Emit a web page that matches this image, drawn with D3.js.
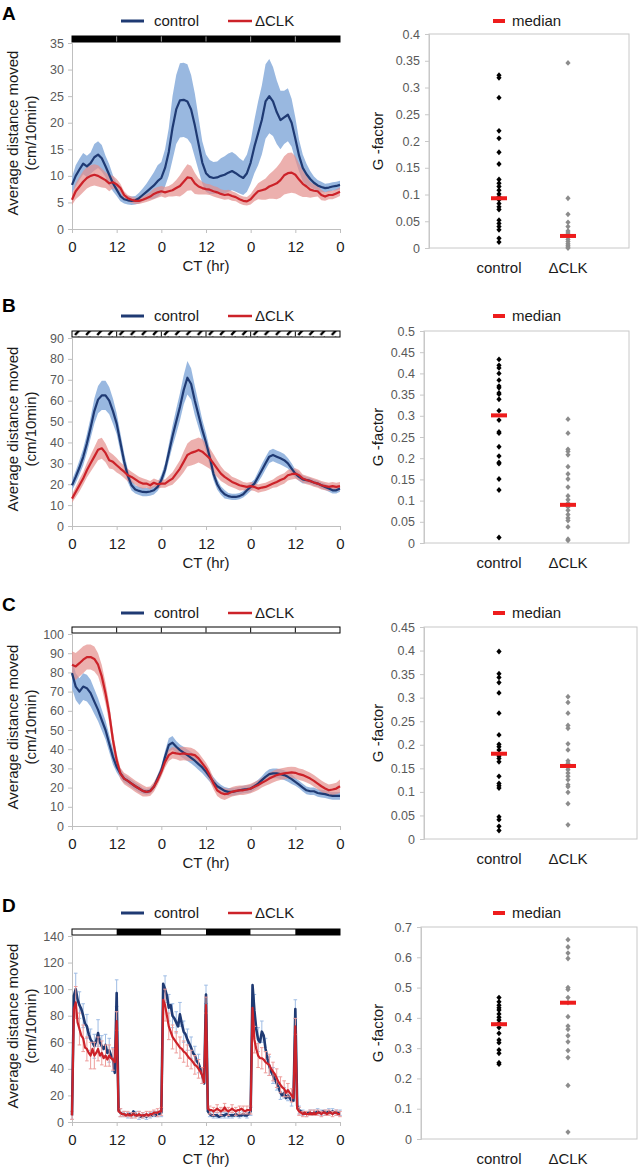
<!DOCTYPE html>
<html><head><meta charset="utf-8">
<script src="https://cdn.jsdelivr.net/npm/d3@7"></script>
<style>
body{margin:0;background:#fff}
svg{display:block}
text{font-family:"Liberation Sans",Arial,sans-serif}
</style>
</head><body>
<svg id="chart" width="642" height="1174"></svg>
<script>
// ---------------- DATA ----------------
const hourTicks = [0, 12, 24, 36, 48, 60, 72];
const hourTickLabels = ["0", "12", "0", "12", "0", "12", "0"];
const seriesNames = ["control", "ΔCLK"];
const groupNames = ["control", "ΔCLK"];

// Panel A (hourly means, SEM)
const aCtrl = [8.3,10.0,11.2,12.3,11.8,12.4,13.5,14.0,13.3,11.8,
  10.2,8.6,7.4,6.2,5.6,5.4,5.3,5.4,5.8,6.4,
  7.0,7.6,8.2,9.0,9.6,11.5,14.5,19.0,22.5,24.2,
  24.3,24.0,22.5,19.5,16.0,12.5,10.5,9.8,9.6,9.7,
  10.0,10.2,10.6,10.9,10.5,10.0,9.6,10.5,12.5,15.5,
  18.0,20.5,24.0,25.0,24.0,22.0,20.5,21.0,21.5,20.0,
  17.0,13.8,11.5,10.3,9.4,8.7,8.2,7.9,7.7,7.8,
  8.0,8.1,8.3];
const aCtrlErr = [1.5,2,2,2,2,2,2.5,2.5,2.5,2,
  2,1.5,1.2,1,0.8,0.8,0.8,0.8,1,1.2,
  1.5,2,2.5,3,3,3.5,4.5,6,6.5,7,
  7,7,6.5,6,5,4,3.5,3.2,3,3,
  3.3,3.5,3.6,3.6,3.5,3.3,3.2,3.5,4,5,
  6,6.5,7,7,6.5,6,5.5,5,5,4.5,
  4,3,2.5,2,1.5,1.2,1,1,0.8,0.8,
  0.8,0.8,0.8];
const aClk = [5.5,7.1,8.0,8.9,9.6,10.0,10.2,10.0,9.6,9.2,
  8.6,8.8,8.4,7.7,6.4,5.8,5.5,5.3,5.3,5.5,
  5.8,6.1,6.6,6.9,7.1,6.9,7.1,7.3,7.7,8.1,
  8.9,9.7,9.6,8.6,8.0,7.7,7.5,7.4,7.1,6.9,
  6.6,6.4,6.5,6.2,6.0,5.6,5.3,5.2,5.6,6.4,
  7.1,7.3,7.5,8.0,8.3,8.6,9.2,10.1,10.5,10.6,
  10.2,9.3,8.5,8.0,7.4,7.2,7.1,6.4,6.1,6.4,
  6.4,6.7,7.0];
const aClkErr = [1,1.5,1.8,2,2,2,2,2,1.8,1.5,
  1.5,1.2,1,0.8,0.7,0.6,0.6,0.6,0.6,0.6,
  0.7,0.8,1,1,1,1,1,1.2,1.5,2,
  2.3,2.5,2.3,2,1.5,1.2,1,1,1,1,
  0.9,0.9,0.9,0.9,0.8,0.8,0.8,0.8,1,1.2,
  1.5,1.8,2,2.3,2.6,3,3.3,3.6,3.8,3.8,
  3.5,3,2.5,2,1.5,1.2,1,1,0.8,0.8,
  0.8,0.8,0.8];

// Panel B
const bCtrl = [19.5,23.5,28,33,39.5,47,55,60.5,62.5,62.5,
  60,55,49,40,31,24,19.5,17.5,16.8,16.3,
  16.2,16.5,17.1,18.7,22,27,35,43,50,57,
  65,71,68,60,53,46,40,33,25,20,
  17,15.2,14.3,13.9,13.9,14.3,15.2,17.1,18.7,20.3,
  23.5,26.7,30,33.2,34,33.2,32.4,31.5,30,27.5,
  25.1,23.5,22.3,22,21.6,20.8,20.3,19.5,18.7,17.9,
  17.1,17.1,17.9];
const bCtrlErr = [2.5,3,3.5,4,4.5,5,6,6.5,7,7,
  6.5,6,5,4.5,4,3,2.5,2,2,2,
  2,2,2,2,2.5,3,4,5,6,6.5,
  7,8,7.5,7,6,5,4.5,4,3,2.5,
  2,2,1.5,1.5,1.5,1.5,1.5,2,2,2,
  2.5,3,3,3,3,3,3,3,2.5,2.5,
  2,2,2,1.5,1.5,1.5,1.5,1.5,1.5,1.5,
  1.5,1.5,1.5];
const bClk = [13.1,16.3,19.5,22.7,26.7,30,33.2,36.5,37.2,35,
  31.5,30.7,29.1,27.5,26,24.3,23.5,22.3,21.1,20.3,
  20.3,19.5,20.7,20,20.3,20.3,21.6,22.7,25.1,27.5,
  30.7,34,35,35.6,36.4,35.6,34,32.4,30,27.5,
  25.1,23.5,22.3,21.1,20.3,19.5,19.1,18.7,19.1,18.7,
  17.9,18.4,18.7,19.5,20.3,21.1,22,22.7,24.3,24.8,
  25.1,24.3,22.7,22,21.5,20.8,20.3,19.5,19.1,18.7,
  19.1,18.7,19.1];
const bClkErr = [2,2.5,3,3,3.5,4,4.5,5,5,4.5,
  4,3.5,3.5,3,3,3,2.5,2.5,2.5,2.5,
  2,2,2,2,2,2,2.5,3,3.5,4,
  5,5.5,6,6,6,6,5.5,5,4.5,4,
  3.5,3,3,2.5,2.5,2.5,2,2,2,2,
  2,2,2,2,2,2.5,2.5,2.5,2.5,2.5,
  2.5,2.5,2,2,2,2,2,2,2,2,
  2,2,2];

// Panel C
const cCtrl = [79.6,72.6,70,72.6,71.8,69.2,64.8,60.5,55.2,50,
  43,36,30.8,27.4,24.7,23.5,22.1,20.7,19.5,18.3,
  17.8,18.3,20.4,24.7,29,36,42.2,43.4,41.3,39.5,
  38.2,36.9,35.5,34,32.2,30.5,28.2,25.6,23,20.7,
  19.5,18.3,17.8,17.8,18.1,18.6,19,19.2,19.5,20.7,
  22.1,23.9,25.6,27,27.4,27.4,27,26.5,25.6,24.4,
  23,21.6,20,18.6,18.1,18.1,17.2,16.9,16.6,16,
  15.7,15.7,15.7];
const cCtrlErr = [8,7,7,7,7,7,6.5,6,5.5,5,
  4.5,4,3,2.5,2,2,2,2,2,1.5,
  1.5,1.5,1.5,2,2.5,3,3.5,3.5,3,3,
  3,3,3,3,3,3,3,2.5,2.5,2.5,
  2,2,2,2,2,2,2,2,2,2,
  2,2,2.5,2.5,2.5,2.5,2.5,2.5,2.5,2.5,
  2,2,2,2,2,2,2,2,2,2,
  2,2,2];
const cClk = [84,83.1,84.8,86.6,88,88,87,84,77.9,69.2,
  58.7,44.8,34.3,27.4,24.7,23.5,22.1,20.7,19.5,18.3,
  17.8,18.1,20.4,23.9,28.2,33.4,36.9,38.2,37.8,37.5,
  37.8,37.5,37.3,36.9,35.2,32.6,30,26.5,22.1,18.6,
  17.2,16.6,16.9,17.8,18.3,18.6,18.6,19,19.5,20.4,
  21.3,22.5,23.5,24.7,25.6,26.5,27,27.4,27.7,27.9,
  27.7,27,26.5,25.6,24.7,23.5,22.1,20.7,19.5,18.6,
  19,19.5,20.7];
const cClkErr = [7,7,7,7,6.5,6.5,6.5,6,6,5.5,
  5,4.5,3.5,3,3,3,3,3,3,3,
  2.5,2.5,2.5,2.5,2.5,3,3,3,3,3.5,
  3.5,3.5,3.5,3,3,3,3,3,3,3,
  3,3,2.5,2.5,2.5,2.5,2.5,2.5,2.5,2.5,
  2.5,2.5,2.5,3,3,3,3,3,3,3,
  3,3,3,3,3,3,3,3,3,3,
  3,3,3.5];

// Panel D (half-hourly means, hourly SEM)
const dCtrl = [5,95,100,92,88,85,80,74,72,66,62,60,57,61,67,60,57,55,58,52,54,50,47,37,
  97,9,7,6,6,5,5,6,5,8,6,5,5,4,5,5,4,5,5,5,6,5,6,6,
  7,104,100,95,86,88,80,78,75,72,81,74,68,66,62,59,56,52,50,46,44,40,35,29,
  96,8,6,5,5,5,5,4,5,5,5,6,5,5,5,5,6,5,5,5,6,5,5,6,
  8,103,84,70,62,60,68,65,55,48,42,38,35,32,29,26,22,20,22,18,20,18,16,16,
  85,12,9,8,7,7,6,7,7,6,7,7,8,7,7,8,7,7,8,7,8,7,7,7,7];
const dClk = [5,85,90,75,70,65,63,56,55,52,50,55,50,52,55,50,52,48,50,47,50,48,47,45,
  76,8,7,6,6,5,6,5,5,6,5,5,6,5,5,5,6,5,6,6,7,7,7,8,
  8,92,88,80,72,68,64,62,60,58,56,55,53,52,50,48,47,45,43,42,40,38,35,30,
  88,10,9,9,8,9,10,9,8,9,11,9,8,9,10,9,8,9,9,10,9,8,9,9,
  9,86,62,55,50,48,48,47,45,44,43,40,38,36,33,30,28,26,25,22,24,22,20,18,
  72,10,8,7,6,7,6,6,7,6,7,6,7,7,6,7,7,6,7,7,6,7,7,6,6];
const dCtrlErr = [3,12,10,9,9,8,9,10,8,8,9,9,
  10,3,2,2,2,2,3,2,2,2,2,2,
  3,10,10,9,8,9,8,8,8,7,7,6,
  7,2,2,2,2,2,2,2,2,2,2,2,
  3,12,9,8,8,7,6,5,5,4,4,4,
  7,3,2,2,2,2,2,2,2,2,2,2,2];
const dClkErr = [3,12,12,10,9,10,10,9,9,8,8,8,
  7,3,2,2,2,2,2,2,2,2,2,3,
  3,12,10,9,8,8,8,8,7,7,7,6,
  6,3,3,3,3,3,3,3,3,3,3,3,
  3,10,9,8,8,8,7,7,6,6,5,5,
  6,3,2,2,2,2,2,2,2,2,2,2,2];

// Light regime bars (one entry per 12 h): D = dark, L = light, H = hatched
const barA = ["D","D","D","D","D","D"];
const barB = ["H","H","H","H","H","H"];
const barC = ["L","L","L","L","L","L"];
const barD = ["L","D","L","D","L","D"];

// Y ticks of activity plots
const yTicksA = [0,5,10,15,20,25,30,35];
const yTicksB = [0,10,20,30,40,50,60,70,80,90];
const yTicksC = [0,10,20,30,40,50,60,70,80,90,100];
const yTicksD = [0,20,40,60,80,100,120,140];

// G-factor per fly
const gCtrlA = [0.323,0.318,0.281,0.219,0.205,0.179,0.157,0.128,0.121,0.115,0.108,0.101,0.096,0.090,0.083,0.077,0.072,0.052,0.046,0.040,0.034,0.018,0.011];
const gClkA  = [0.346,0.093,0.063,0.048,0.040,0.032,0.028,0.024,0.020,0.016,0.012,0.008,0.005,0.002,0.000];
const gCtrlB = [0.433,0.419,0.413,0.400,0.384,0.370,0.366,0.354,0.351,0.339,0.312,0.290,0.262,0.259,0.227,0.205,0.190,0.187,0.151,0.125,0.013];
const gClkB  = [0.292,0.259,0.221,0.216,0.208,0.180,0.163,0.151,0.132,0.111,0.102,0.094,0.085,0.077,0.067,0.059,0.053,0.038,0.009,0.006];
const gCtrlC = [0.398,0.351,0.343,0.332,0.310,0.267,0.221,0.201,0.196,0.189,0.176,0.171,0.164,0.133,0.118,0.113,0.108,0.047,0.041,0.027,0.018];
const gClkC  = [0.302,0.290,0.267,0.241,0.235,0.202,0.189,0.166,0.161,0.152,0.147,0.140,0.133,0.126,0.115,0.111,0.099,0.075,0.030];
const gCtrlD = [0.467,0.453,0.442,0.433,0.426,0.413,0.402,0.393,0.382,0.368,0.349,0.327,0.318,0.294,0.283,0.252,0.247];
const gClkD  = [0.658,0.634,0.614,0.596,0.500,0.494,0.467,0.450,0.404,0.373,0.362,0.341,0.321,0.292,0.269,0.177,0.023];
const medA = [0.093, 0.0225];
const medB = [0.301, 0.090];
const medC = [0.181, 0.155];
const medD = [0.379, 0.450];
const gTicksA = [0,0.05,0.1,0.15,0.2,0.25,0.3,0.35,0.4];
const gTicksB = [0,0.05,0.1,0.15,0.2,0.25,0.3,0.35,0.4,0.45,0.5];
const gTicksC = [0,0.05,0.1,0.15,0.2,0.25,0.3,0.35,0.4,0.45];
const gTicksD = [0,0.1,0.2,0.3,0.4,0.5,0.6,0.7];

// ---------------- LAYOUT ----------------
const hours = d3.range(0, 73);
const halfHours = d3.range(0, 72.5, 0.5);
const C = {
  navy: "#1F3A73", red: "#CC2229", blueBand: "#94B4DE", redBand: "#E48E8C",
  blueBar: "#9EBCE4", redBar: "#EE9E9C", axis: "#BFBFBF", tick: "#595959", text: "#1a1a1a"
};
const panels = [
  {L:"A", ctrl:aCtrl, ctrlErr:aCtrlErr, clk:aClk, clkErr:aClkErr, yMax:35, yTicks:yTicksA, bar:barA,
   top:43, bot:229, legY:21, letY:20, sep:"#9a9a9a",
   g:{ctrl:gCtrlA, clk:gClkA, med:medA, max:0.4, ticks:gTicksA, x0:429, x1:629, y0:34, y1:248}},
  {L:"B", ctrl:bCtrl, ctrlErr:bCtrlErr, clk:bClk, clkErr:bClkErr, yMax:90, yTicks:yTicksB, bar:barB,
   top:338, bot:526, legY:316, letY:312, sep:"#000",
   g:{ctrl:gCtrlB, clk:gClkB, med:medB, max:0.5, ticks:gTicksB, x0:424, x1:629, y0:331, y1:543}},
  {L:"C", ctrl:cCtrl, ctrlErr:cCtrlErr, clk:cClk, clkErr:cClkErr, yMax:100, yTicks:yTicksC, bar:barC,
   top:634, bot:826, legY:613, letY:611, sep:"#000",
   g:{ctrl:gCtrlC, clk:gClkC, med:medC, max:0.45, ticks:gTicksC, x0:424, x1:637, y0:627, y1:839}},
  {L:"D", ctrl:dCtrl, ctrlErr:dCtrlErr, clk:dClk, clkErr:dClkErr, yMax:140, yTicks:yTicksD, bar:barD,
   top:936, bot:1122, legY:913, letY:912, sep:"#000", noisy:true,
   g:{ctrl:gCtrlD, clk:gClkD, med:medD, max:0.7, ticks:gTicksD, x0:421, x1:637, y0:927, y1:1139}}
];

const svg = d3.select("#chart");
const x = d3.scaleLinear().domain([0, 72]).range([72, 340]);

// hatch pattern
const defs = svg.append("defs");
const hw = x(3) - x(0);
const pat = defs.append("pattern").attr("id", "hatch").attr("patternUnits", "userSpaceOnUse")
  .attr("width", hw).attr("height", 7).attr("x", 72);
pat.append("rect").attr("width", hw).attr("height", 7).attr("fill", "#fff");
pat.append("line").attr("x1", 3).attr("y1", 6).attr("x2", 7.5).attr("y2", 1)
  .attr("stroke", "#000").attr("stroke-width", 2.4);

const diamond = { draw(ctx, size) { const w = 2.6, h = 2.9; ctx.moveTo(0,-h); ctx.lineTo(w,0); ctx.lineTo(0,h); ctx.lineTo(-w,0); ctx.closePath(); } };

panels.forEach(p => {
  const g = svg.append("g");
  const y = d3.scaleLinear().domain([0, p.yMax]).range([p.bot, p.top]);
  const tx = p.noisy ? halfHours : hours;

  // panel letter
  g.append("text").attr("x", 2).attr("y", p.letY).attr("font-size", 19).attr("font-weight", "bold")
    .attr("fill", "#000").text(p.L);

  // legend
  const lg = g.append("g");
  lg.append("line").attr("x1", 121).attr("x2", 144).attr("y1", p.legY).attr("y2", p.legY)
    .attr("stroke", C.navy).attr("stroke-width", 3);
  lg.append("text").attr("x", 154).attr("y", p.legY).attr("dy", "0.35em").attr("font-size", 15)
    .attr("fill", C.text).text(seriesNames[0]);
  lg.append("line").attr("x1", 228).attr("x2", 252).attr("y1", p.legY).attr("y2", p.legY)
    .attr("stroke", C.red).attr("stroke-width", 2.5);
  lg.append("text").attr("x", 255).attr("y", p.legY).attr("dy", "0.35em").attr("font-size", 15)
    .attr("fill", C.text).text(seriesNames[1]);

  // light bar
  const barTop = p.top - 7, barH = 6;
  p.bar.forEach((s, i) => {
    g.append("rect").attr("x", x(i * 12)).attr("y", barTop).attr("width", x(12) - x(0)).attr("height", barH)
      .attr("fill", s === "D" ? "#000" : s === "H" ? "url(#hatch)" : "#fff");
  });
  g.append("rect").attr("x", x(0)).attr("y", barTop).attr("width", x(72) - x(0)).attr("height", barH)
    .attr("fill", "none").attr("stroke", "#000").attr("stroke-width", 1);
  if (p.L !== "D") {
    hourTicks.slice(1, -1).forEach(h => {
      g.append("line").attr("x1", x(h)).attr("x2", x(h)).attr("y1", barTop + 0.5).attr("y2", barTop + barH - 0.5)
        .attr("stroke", p.sep).attr("stroke-width", 1);
    });
  }

  // axes
  const yAx = g.append("g").attr("transform", `translate(${x(0)},0)`)
    .call(d3.axisLeft(y).tickValues(p.yTicks).tickSize(4).tickPadding(4).tickFormat(d => String(d)));
  yAx.select(".domain").attr("stroke", C.axis);
  yAx.selectAll(".tick line").attr("stroke", C.axis);
  yAx.selectAll(".tick text").attr("font-size", 12.5).attr("fill", C.tick)
    .attr("font-family", '"Liberation Sans",Arial,sans-serif');
  const xAx = g.append("g").attr("transform", `translate(0,${p.bot})`)
    .call(d3.axisBottom(x).tickValues(hourTicks).tickSize(4).tickPadding(8)
      .tickFormat((d, i) => hourTickLabels[i]));
  xAx.select(".domain").attr("stroke", C.axis);
  xAx.selectAll(".tick line").attr("stroke", C.axis);
  xAx.selectAll(".tick text").attr("font-size", 15).attr("fill", C.text)
    .attr("font-family", '"Liberation Sans",Arial,sans-serif');

  g.append("text").attr("x", (x(0) + x(72)) / 2).attr("y", p.bot + 42).attr("text-anchor", "middle")
    .attr("font-size", 15).attr("fill", C.text).text("CT (hr)");
  const cy = (p.top + p.bot) / 2 - 3;
  g.append("text").attr("transform", `translate(13,${cy}) rotate(-90)`).attr("dy", "0.35em")
    .attr("text-anchor", "middle").attr("font-size", 15).attr("fill", C.text).text("Average distance moved");
  g.append("text").attr("transform", `translate(31,${cy}) rotate(-90)`).attr("dy", "0.35em")
    .attr("text-anchor", "middle").attr("font-size", 15).attr("fill", C.text).text("(cm/10min)");

  const line = d3.line().x((d, i) => x(tx[i])).y(d => y(d));
  if (!p.noisy) {
    const band = (vals, errs) => d3.area().x((d, i) => x(tx[i]))
      .y0((d, i) => y(Math.max(0, vals[i] - errs[i]))).y1((d, i) => y(vals[i] + errs[i]))(vals);
    g.append("path").attr("d", band(p.ctrl, p.ctrlErr)).attr("fill", C.blueBand).attr("opacity", 0.95);
    g.append("path").attr("d", band(p.clk, p.clkErr)).attr("fill", C.redBand).attr("opacity", 0.7);
    g.append("path").attr("d", line(p.ctrl)).attr("fill", "none").attr("stroke", C.navy)
      .attr("stroke-width", 2.2).attr("stroke-linejoin", "round");
    g.append("path").attr("d", line(p.clk)).attr("fill", "none").attr("stroke", C.red)
      .attr("stroke-width", 2.2).attr("stroke-linejoin", "round");
  } else {
    const errBars = (vals, errs, color) => {
      const eg = g.append("g").attr("stroke", color).attr("stroke-width", 1);
      errs.forEach((e, h) => {
        const v = vals[h * 2];
        eg.append("line").attr("x1", x(h)).attr("x2", x(h)).attr("y1", y(Math.max(0, v - e))).attr("y2", y(v + e));
        eg.append("line").attr("x1", x(h) - 1.8).attr("x2", x(h) + 1.8).attr("y1", y(v + e)).attr("y2", y(v + e));
        eg.append("line").attr("x1", x(h) - 1.8).attr("x2", x(h) + 1.8).attr("y1", y(Math.max(0, v - e))).attr("y2", y(Math.max(0, v - e)));
      });
    };
    errBars(p.ctrl, p.ctrlErr, C.blueBar);
    g.append("path").attr("d", line(p.ctrl)).attr("fill", "none").attr("stroke", C.navy)
      .attr("stroke-width", 2.6).attr("stroke-linejoin", "round");
    errBars(p.clk, p.clkErr, C.redBar);
    g.append("path").attr("d", line(p.clk)).attr("fill", "none").attr("stroke", C.red)
      .attr("stroke-width", 2.2).attr("stroke-linejoin", "round");
  }

  // ---------- G-factor scatter ----------
  const q = p.g;
  const gy = d3.scaleLinear().domain([0, q.max]).range([q.y1, q.y0]);
  const gx = d3.scalePoint().domain(groupNames).range([499, 568]);
  g.append("rect").attr("x", q.x0).attr("y", q.y0).attr("width", q.x1 - q.x0).attr("height", q.y1 - q.y0)
    .attr("fill", "none").attr("stroke", "#C8C8C8").attr("stroke-width", 1);
  const gAx = g.append("g").attr("transform", `translate(${q.x0},0)`)
    .call(d3.axisLeft(gy).tickValues(q.ticks).tickSize(4).tickPadding(5).tickFormat(d => String(d)));
  gAx.select(".domain").attr("stroke", "#C8C8C8");
  gAx.selectAll(".tick line").attr("stroke", "#C8C8C8");
  gAx.selectAll(".tick text").attr("font-size", 12.5).attr("fill", C.tick)
    .attr("font-family", '"Liberation Sans",Arial,sans-serif');
  groupNames.forEach(n => {
    g.append("text").attr("x", gx(n)).attr("y", q.y1 + 20).attr("dy", "0.35em").attr("text-anchor", "middle")
      .attr("font-size", 15).attr("fill", C.text).text(n);
  });
  g.append("text").attr("transform", `translate(378,${(q.y0 + q.y1) / 2})rotate(-90)`).attr("dy", "0.35em")
    .attr("text-anchor", "middle").attr("font-size", 15).attr("fill", C.text).text("G -factor");
  const sym = d3.symbol().type(diamond);
  g.selectAll(null).data(q.ctrl).join("path").attr("d", sym)
    .attr("transform", d => `translate(${gx(groupNames[0])},${gy(d)})`).attr("fill", "#000");
  g.selectAll(null).data(q.clk).join("path").attr("d", sym)
    .attr("transform", d => `translate(${gx(groupNames[1])},${gy(d)})`).attr("fill", "#8C8C8C");
  g.selectAll(null).data(q.med).join("rect")
    .attr("x", (d, i) => gx(groupNames[i]) - 8).attr("y", d => gy(d) - 2).attr("width", 16).attr("height", 4)
    .attr("fill", "#EE1C1C");
  // median legend
  g.append("rect").attr("x", 493).attr("y", p.legY - 2).attr("width", 12).attr("height", 4).attr("fill", "#EE1C1C");
  g.append("text").attr("x", 512).attr("y", p.legY).attr("dy", "0.35em").attr("font-size", 15)
    .attr("fill", C.text).text("median");
});
</script>
</body></html>
